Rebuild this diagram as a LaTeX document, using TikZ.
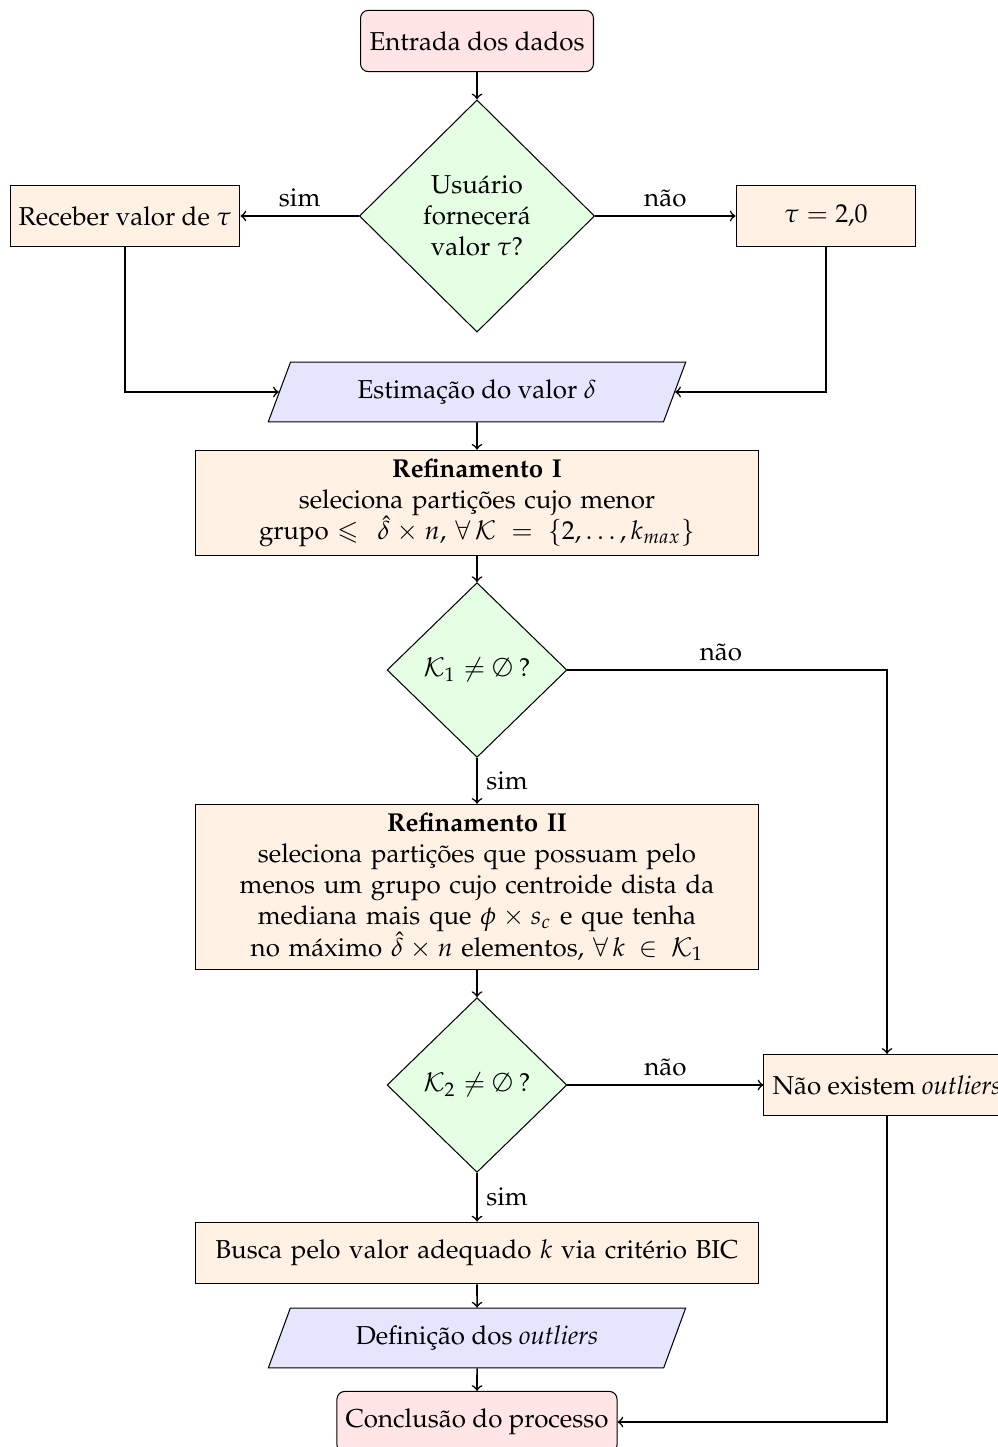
\documentclass[tikz,border=0pt]{standalone}
\usepackage[T1]{fontenc}
\usepackage{mathpazo}
\usepackage{amssymb}
\usepackage{tikz}
\usetikzlibrary{shapes.geometric,arrows}

\begin{document}
\begin{tikzpicture}[x=0.01357cm,y=-0.01357cm]

\useasboundingbox (0,0) rectangle (998,1447);

\tikzstyle{startstop}=[rectangle,rounded corners=3pt,draw,fill=red!10,minimum width=3.16cm,minimum height=0.83cm]
\tikzstyle{process}=[rectangle,draw,fill=orange!10,minimum height=0.83cm,align=center]
\tikzstyle{decision}=[diamond,draw,fill=green!10,inner sep=0pt,align=center]
\tikzstyle{io}=[trapezium,trapezium left angle=70,trapezium right angle=110,trapezium stretches=true,draw,fill=blue!10,minimum width=5.67cm,minimum height=0.81cm]
\tikzstyle{arrow}=[->,semithick]

\node (entrada) [startstop] at (477,41) {Entrada dos dados};
\node (dec1) [decision,minimum width=3.19cm,minimum height=3.15cm] at (477,216) {Usuário\\fornecerá\\valor $\tau$?};
\node (receber) [process,minimum width=3.11cm] at (125,216) {Receber valor de $\tau$};
\node (tau) [process,minimum width=2.44cm] at (826,216) {$\tau=2{,}0$};
\node (estima) [io] at (477,392) {Estimação do valor $\delta$};

\node (ref1) [process,text width=7.4cm,minimum height=1.38cm] at (477,503) {\textbf{Refinamento I}\\
seleciona partições cujo menor\\
grupo $\leqslant\,\hat{\delta}\times n$, $\forall\,\mathcal{K} = \{2,\ldots,k_{max}\}$};

\node (dec2) [decision,minimum width=2.44cm,minimum height=2.37cm] at (477,670) {$\mathcal{K}_1\neq\emptyset$ ?};

\node (ref2) [process,text width=7.4cm,minimum height=2.2cm] at (477,887) {\textbf{Refinamento II}\\
seleciona partições que possuam pelo\\
menos um grupo cujo centroide dista da\\
mediana mais que $\phi\times s_c$ e que tenha\\
no máximo $\hat{\delta}\times n$ elementos, $\forall\,k \in \mathcal{K}_1$};

\node (dec3) [decision,minimum width=2.44cm,minimum height=2.37cm] at (477,1085) {$\mathcal{K}_2\neq\emptyset$ ?};
\node (naoexiste) [process,minimum width=3.28cm] at (887,1085) {Não existem \emph{outliers}};

\node (busca) [process,text width=7.4cm,minimum height=0.84cm] at (477,1253) {Busca pelo valor adequado $k$ via critério BIC};
\node (defin) [io] at (477,1338) {Definição dos \emph{outliers}};
\node (concl) [startstop,minimum width=3.77cm] at (477,1422) {Conclusão do processo};

% ligacoes
\draw [arrow] (entrada) -- (dec1);
\draw [arrow] (dec1) -- node[above] {sim} (receber);
\draw [arrow] (dec1) -- node[above] {não} (tau);
\draw [arrow] (receber.south) |- (estima.west);
\draw [arrow] (tau.south) |- (estima.east);
\draw [arrow] (estima) -- (ref1);
\draw [arrow] (ref1) -- (dec2);
\draw [arrow] (dec2.east) -| node[pos=0.24,above] {não} (naoexiste.north);
\draw [arrow] (dec2) -- node[right] {sim} (ref2);
\draw [arrow] (ref2) -- (dec3);
\draw [arrow] (dec3) -- node[above] {não} (naoexiste);
\draw [arrow] (dec3) -- node[right] {sim} (busca);
\draw [arrow] (busca) -- (defin);
\draw [arrow] (defin) -- (concl);
\draw [arrow] (naoexiste.south) |- (concl.east);

\end{tikzpicture}
\end{document}
